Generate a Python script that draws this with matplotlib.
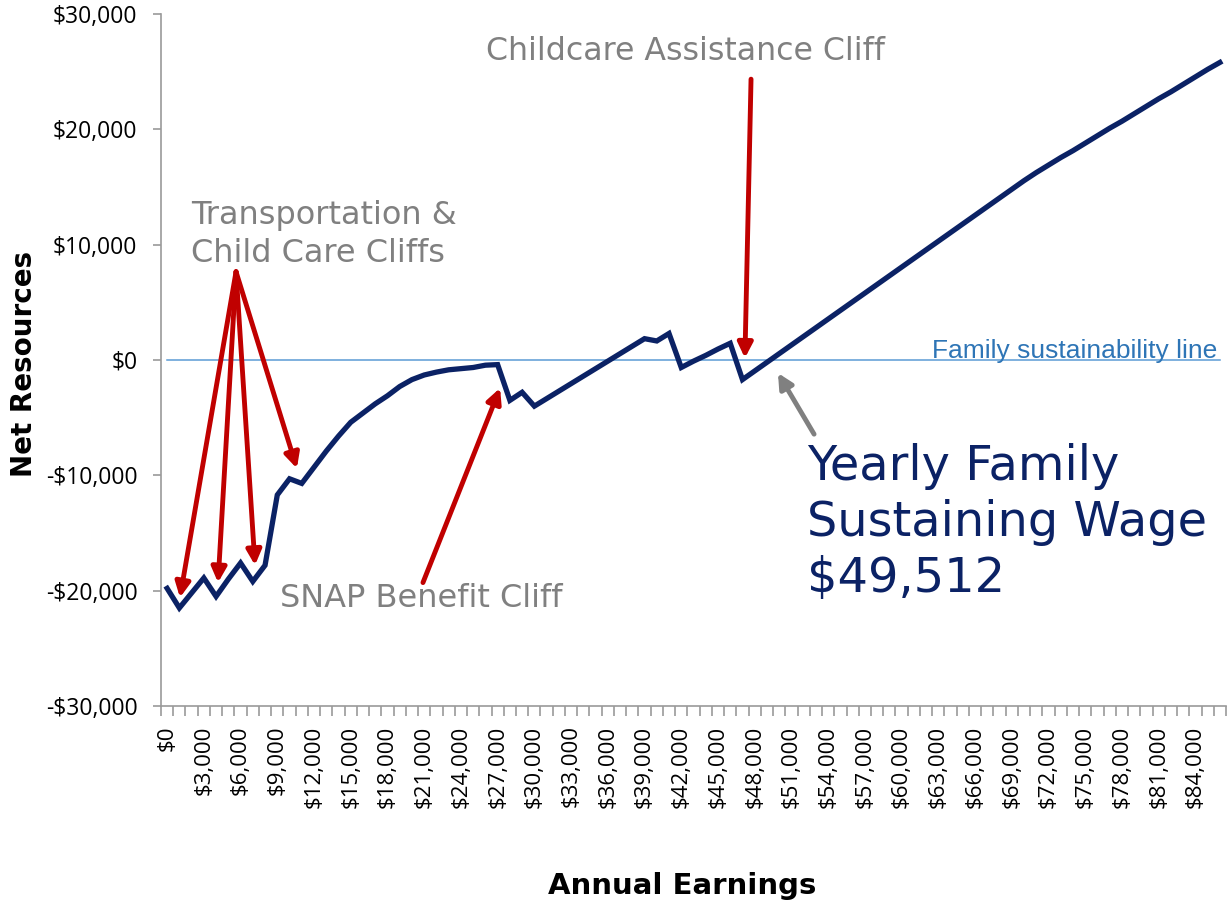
import matplotlib
matplotlib.use("Agg")
import matplotlib.pyplot as plt
import numpy as np
from matplotlib.ticker import FuncFormatter, FixedLocator

# annual earnings in $1,000 steps (category axis)
earnings = list(range(0, 87000, 1000))
net_resources = [
    -19800, -21500, -20200, -18900, -20500, -19000, -17600, -19200, -17800, -11700,
    -10300, -10700, -9300, -7900, -6600, -5400, -4600, -3800, -3100, -2300,
    -1700, -1300, -1050, -850, -750, -650, -450, -400, -3500, -2800,
    -4000, -3350, -2700, -2050, -1400, -750, -100, 550, 1200, 1850,
    1650, 2300, -650, -100, 400, 950, 1450, -1700, -950, -200,
    550, 1300, 2050, 2800, 3550, 4300, 5050, 5800, 6550, 7300,
    8050, 8800, 9550, 10300, 11050, 11800, 12550, 13300, 14050, 14800,
    15550, 16250, 16900, 17550, 18150, 18800, 19450, 20100, 20700, 21350,
    22000, 22650, 23250, 23900, 24550, 25200, 25800,
]
sustain_line = [0] * len(earnings)

navy = "#0b2265"
red = "#c00000"
gray = "#808080"

fig = plt.figure(figsize=(12.3, 9.01), dpi=100)
ax = fig.add_axes([161 / 1230, 1 - 706 / 901, (1226 - 161) / 1230, (706 - 14) / 901])

idx = np.arange(len(earnings))
ax.plot(idx, sustain_line, color="#5b9bd5", lw=1.1, zorder=2)
ax.plot(idx, net_resources, color=navy, lw=3.8, solid_joinstyle="miter", zorder=3)

ax.set_xlim(-0.5, len(earnings) - 0.5)
ax.set_ylim(-30000, 30000)
ax.set_yticks(np.arange(-30000, 30001, 10000))
ax.yaxis.set_major_formatter(FuncFormatter(lambda v, p: f"${v:,.0f}" if v >= 0 else f"-${-v:,.0f}"))

# x labels every $3,000, tick marks on category boundaries
ax.xaxis.set_major_locator(FixedLocator(idx[::3]))
ax.set_xticklabels([f"${earnings[i]:,}" for i in idx[::3]], rotation=90, va="top", ha="center")
ax.xaxis.set_minor_locator(FixedLocator(np.arange(-0.5, len(earnings), 1)))

for s in ["top", "right"]:
    ax.spines[s].set_visible(False)
for s in ["left", "bottom"]:
    ax.spines[s].set_color("#9a9a9a")
    ax.spines[s].set_linewidth(1.2)

ax.tick_params(axis="x", which="major", length=0, pad=14, labelsize=16)
ax.tick_params(axis="x", which="minor", length=7, color="#9a9a9a", width=1.2)
ax.tick_params(axis="y", length=6, color="#9a9a9a", width=1.2, pad=11, labelsize=16.5)
for lab in ax.get_xticklabels() + ax.get_yticklabels():
    lab.set_family("Open Sans")

fig.text(24 / 1230, 1 - 364 / 901, "Net Resources", rotation=90, ha="center", va="center",
         fontsize=20, fontweight="bold", family="DejaVu Sans")
fig.text(682 / 1230, 1 - 886 / 901, "Annual Earnings", ha="center", va="center",
         fontsize=21, fontweight="bold", family="DejaVu Sans")

arrow_red = dict(arrowstyle="-|>", color=red, lw=3.5, mutation_scale=22, shrinkA=0, shrinkB=0)
arrow_gray = dict(arrowstyle="-|>", color=gray, lw=3.5, mutation_scale=22, shrinkA=0, shrinkB=0)

# transportation & child care cliffs
for tip in [(1.05, -20600), (4.16, -19300), (7.18, -17800), (10.6, -9400)]:
    ax.annotate("", xy=tip, xytext=(5.63, 7650), arrowprops=arrow_red, zorder=4)
# SNAP cliff
ax.annotate("", xy=(27.2, -2430), xytext=(20.9, -19300), arrowprops=arrow_red, zorder=4)
# childcare assistance cliff
ax.annotate("", xy=(47.2, 170), xytext=(47.7, 24350), arrowprops=arrow_red, zorder=4)
# sustaining wage
ax.annotate("", xy=(49.9, -1130), xytext=(52.85, -6430), arrowprops=arrow_gray, zorder=4)

ax.text(26.05, 26780, "Childcare Assistance Cliff", color=gray, fontsize=22.8, ha="left", va="center")
ax.text(1.95, 10870, "Transportation &\nChild Care Cliffs", color=gray, fontsize=23,
        ha="left", va="center", linespacing=1.3)
ax.text(9.2, -20700, "SNAP Benefit Cliff", color=gray, fontsize=23, ha="left", va="center")
ax.text(52.3, -14090, "Yearly Family\nSustaining Wage\n$49,512", color=navy, fontsize=34.5,
        ha="left", va="center", linespacing=1.25)
ax.text(85.8, 150, "Family sustainability line", color="#2e75b6", fontsize=19,
        family="Liberation Sans", ha="right", va="baseline")

fig.savefig("out.png", dpi=100)
